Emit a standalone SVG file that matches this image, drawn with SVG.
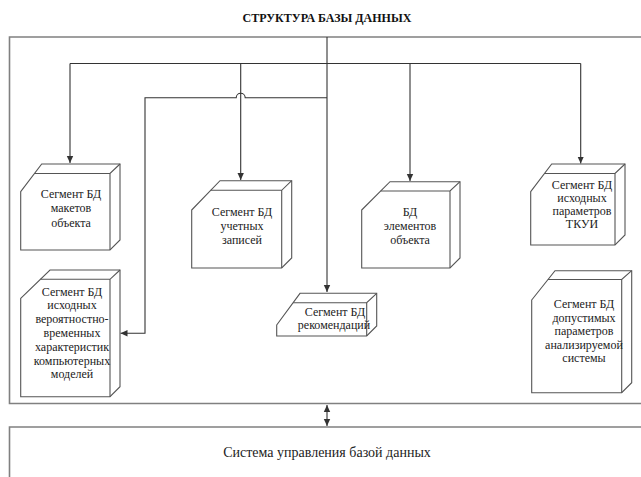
<svg xmlns="http://www.w3.org/2000/svg" width="641" height="477" viewBox="0 0 641 477">
  <defs>
    <marker id="arr" markerWidth="8" markerHeight="8" refX="7" refY="4" orient="auto" markerUnits="userSpaceOnUse">
      <path d="M0,0.8 L7,4 L0,7.2 Z" fill="#333"/>
    </marker>
    <marker id="arrStart" markerWidth="8" markerHeight="8" refX="1" refY="4" orient="auto" markerUnits="userSpaceOnUse">
      <path d="M8,0.8 L1,4 L8,7.2 Z" fill="#333"/>
    </marker>
    <style>
      .frame { fill: none; stroke: #808080; stroke-width: 1.6; }
      .box { fill: #fff; stroke: #555; stroke-width: 1.1; stroke-linejoin: miter; }
      .edge { fill: none; stroke: #555; stroke-width: 1.1; }
      .conn { fill: none; stroke: #333; stroke-width: 1.1; }
      text { font-family: "Liberation Serif", "DejaVu Serif", "Times New Roman", serif; }
      .lbl { font-size: 12px; fill: #222; text-anchor: middle; }
      .title { font-size: 12px; font-weight: bold; fill: #111; text-anchor: middle; }
      .sys { font-size: 14px; fill: #222; text-anchor: middle; }
    </style>
  </defs>

  <rect width="641" height="477" fill="#fff"/>

  <text class="title" x="327" y="22">СТРУКТУРА БАЗЫ ДАННЫХ</text>

  <!-- database container and DBMS block -->
  <path class="frame" d="M641,37 H9.5 V403.5 H641"/>
  <path class="frame" d="M641,427 H9.5 V477"/>

  <!-- connectors -->
  <g id="connectors">
    <path class="conn" d="M327,37 V292" marker-end="url(#arr)"/>
    <path class="conn" d="M70,63.5 H580.7"/>
    <path class="conn" d="M70,63.5 V163" marker-end="url(#arr)"/>
    <path class="conn" d="M240.7,63.5 V180" marker-end="url(#arr)"/>
    <path class="conn" d="M410,63.5 V181" marker-end="url(#arr)"/>
    <path class="conn" d="M580.7,63.5 V163.5" marker-end="url(#arr)"/>
    <path class="conn" d="M327,97.7 H245.2 A4.5,4.5 0 0 0 236.2,97.7 H145 V333.3 H120.5" marker-end="url(#arr)"/>
    <path class="conn" d="M327,405 V426" marker-start="url(#arrStart)" marker-end="url(#arr)"/>
  </g>

  <!-- node: layouts segment -->
  <g id="n-layouts">
    <path class="box" d="M20.7,191.7 L41.7,164 H120 V240 L110,250 H20.7 Z"/>
    <path class="edge" d="M34.5,173.5 H110 L120,164 M110,173.5 V250"/>
    <text class="lbl" x="71" y="197.5">Сегмент БД</text>
    <text class="lbl" x="71" y="212">макетов</text>
    <text class="lbl" x="71" y="226.5">объекта</text>
  </g>

  <!-- node: accounts segment -->
  <g id="n-accounts">
    <path class="box" d="M191.7,210 L220,180.7 H291.7 V258 L281.7,268 H191.7 Z"/>
    <path class="edge" d="M210.7,190.3 H281.7 L291.7,180.7 M281.7,190.3 V268"/>
    <text class="lbl" x="242" y="215.5">Сегмент БД</text>
    <text class="lbl" x="242" y="229.5">учетных</text>
    <text class="lbl" x="242" y="244">записей</text>
  </g>

  <!-- node: object elements -->
  <g id="n-elements">
    <path class="box" d="M361.7,210 L390,181.7 H460 V258 L450,268 H361.7 Z"/>
    <path class="edge" d="M380.7,191 H450 L460,181.7 M450,191 V268"/>
    <text class="lbl" x="410" y="215.5">БД</text>
    <text class="lbl" x="410" y="229.5">элементов</text>
    <text class="lbl" x="410" y="244">объекта</text>
  </g>

  <!-- node: TKUI source parameters -->
  <g id="n-tkui">
    <path class="box" d="M530.7,191.7 L551.7,164 H625 V235 L615,245 H530.7 Z"/>
    <path class="edge" d="M544.5,173.5 H615 L625,164 M615,173.5 V245"/>
    <text class="lbl" x="582" y="188.5">Сегмент БД</text>
    <text class="lbl" x="582" y="201.5">исходных</text>
    <text class="lbl" x="582" y="214.5">параметров</text>
    <text class="lbl" x="582" y="227.5">ТКУИ</text>
  </g>

  <!-- node: probabilistic-temporal characteristics -->
  <g id="n-models">
    <path class="box" d="M20.7,298.3 L50,270 H120 V386.7 L110,396.7 H20.7 Z"/>
    <path class="edge" d="M40.4,279.3 H110 L120,270 M110,279.3 V396.7"/>
    <text class="lbl" x="72" y="295.5">Сегмент БД</text>
    <text class="lbl" x="72" y="309.3">исходных</text>
    <text class="lbl" x="72" y="323.1">вероятностно-</text>
    <text class="lbl" x="72" y="336.9">временных</text>
    <text class="lbl" x="72" y="350.7">характеристик</text>
    <text class="lbl" x="72" y="364.5">компьютерных</text>
    <text class="lbl" x="72" y="378.3">моделей</text>
  </g>

  <!-- node: recommendations segment -->
  <g id="n-recommend">
    <path class="box" d="M276.7,325 L300,293.3 H376.7 V326 L366.7,336 H276.7 Z"/>
    <path class="edge" d="M293.1,302.7 H366.7 L376.7,293.3 M366.7,302.7 V336"/>
    <text class="lbl" x="335" y="315.5">Сегмент БД</text>
    <text class="lbl" x="334" y="329">рекомендаций</text>
  </g>

  <!-- node: admissible parameters of analysed system -->
  <g id="n-admissible">
    <path class="box" d="M531.7,300 L555,270.7 H631.7 V382.7 L621.7,392.7 H531.7 Z"/>
    <path class="edge" d="M548,279.5 H621.7 L631.7,270.7 M621.7,279.5 V392.7"/>
    <text class="lbl" x="584" y="308">Сегмент БД</text>
    <text class="lbl" x="584" y="321.5">допустимых</text>
    <text class="lbl" x="584" y="335">параметров</text>
    <text class="lbl" x="584" y="348.5">анализируемой</text>
    <text class="lbl" x="584" y="362">системы</text>
  </g>

  <!-- DBMS label -->
  <g id="n-dbms">
    <text class="sys" x="327" y="457">Система управления базой данных</text>
  </g>
</svg>
